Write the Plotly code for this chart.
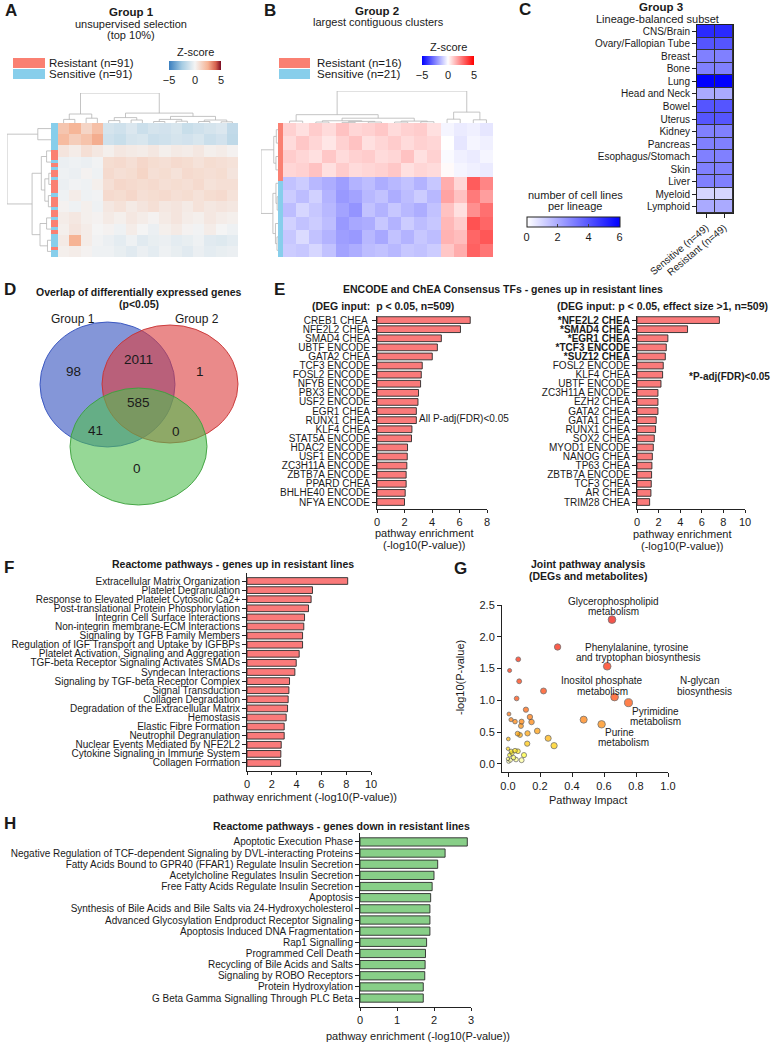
import numpy as np
import plotly.graph_objects as go

W, H = 781, 1042
FONT = "Arial, 'Liberation Sans', Helvetica, sans-serif"
INK = "#1a1a1a"

# ======================= DATA =======================
# Panel A: coarse z-score blocks (rows top->bottom, 16 gene clusters)
heatA_rows = [
    [1.8, 2.4, 1.2, 2.0, -1.0, -1.2, -0.8, -1.3, -1.0, -1.1, -0.9, -1.4, -1.2, -1.0, -0.8, -1.6],
    [2.2, 1.5, 1.9, 2.6, -1.2, -1.4, -1.0, -0.9, -1.3, -1.2, -1.0, -1.1, -0.9, -1.3, -1.1, -1.7],
    [0.6, 0.3, 0.8, 0.5, 0.2, 0.5, 0.4, 0.3, 0.5, 0.2, 0.4, 0.3, 0.5, 0.2, 0.3, 0.1],
    [-0.3, -0.2, -0.3, -0.1, 0.9, 1.0, 0.8, 1.1, 0.9, 0.8, 1.0, 0.9, 0.7, 0.9, 0.8, 0.7],
    [-0.2, -0.3, 0.1, -0.2, 1.0, 0.8, 0.9, 1.2, 0.8, 0.9, 0.7, 1.0, 0.9, 0.8, 0.9, 0.6],
    [-0.3, -0.1, -0.2, 0.2, 0.8, 1.1, 1.0, 0.9, 1.0, 0.8, 0.9, 0.8, 1.0, 0.7, 0.8, 0.8],
    [-0.2, 0.3, -0.2, -0.1, 1.0, 0.9, 1.1, 0.8, 0.9, 1.0, 0.8, 0.9, 0.7, 0.9, 1.0, 0.7],
    [0.1, -0.2, 0.2, -0.2, 0.5, 0.7, 0.4, 0.6, 0.8, 0.5, 0.6, 0.4, 0.7, 0.5, 0.6, 0.5],
    [0.3, 0.5, 0.2, 0.1, 0.4, 0.2, 0.5, 0.3, 0.1, 0.4, 0.6, 0.3, 0.2, 0.5, 0.3, 0.2],
    [0.2, 0.6, 0.3, 0.0, 0.1, -0.2, 0.3, 0.0, -0.3, 0.2, 0.4, 0.1, -0.1, 0.3, 0.0, -0.2],
    [0.4, 2.5, 0.3, -0.1, -0.3, -0.5, -0.2, -0.6, -0.4, -0.3, -0.5, -0.4, -0.2, -0.6, -0.7, -0.5],
    [0.2, 0.3, 0.1, -0.2, -0.2, -0.4, -0.6, -0.3, -0.5, -0.2, -0.4, -0.6, -0.3, -0.5, -0.4, -0.3],
]
annoA_runs = [("S", 8), ("R", 3), ("S", 1), ("R", 1), ("S", 1), ("R", 2), ("S", 1), ("R", 4),
              ("S", 1), ("R", 3), ("S", 1), ("R", 2), ("S", 1), ("R", 2), ("S", 1), ("R", 1),
              ("S", 4), ("R", 1), ("S", 2)]
dendroA_top = [1.0, [0.30, [0.12, 0, 1], [0.16, 2, 3]],
               [0.33, [0.18, [0.08, 4, 5], [0.10, 6, 7]],
                [0.22, [0.12, [0.05, 8, 9], [0.06, 10, 11]], [0.10, [0.05, 12, 13], [0.04, 14, 15]]]]]
dendroA_left = [1.0, [0.30, 0, 1],
                [0.43, [0.22, [0.10, 2, 3], [0.14, [0.05, 4, 5], [0.06, 6, 7]]],
                 [0.25, [0.10, 8, 9], [0.08, 10, 11]]]]

# Panel B
heatB_rows = [
    [0.9, 0.6, 1.0, 0.7, 1.2, 0.8, 0.9, 1.1, 0.7, 0.9, 1.0, 0.6, -0.2, -0.4, -0.3, -0.5],
    [0.7, 1.1, 0.8, 0.5, 0.9, 1.2, 0.6, 0.8, 1.0, 0.7, 0.9, 0.8, 0.0, -0.5, -0.2, -0.3],
    [1.0, 0.8, 0.6, 1.1, 0.7, 0.9, 1.0, 0.7, 0.8, 1.2, 0.6, 0.9, -0.1, -0.3, -0.4, -0.2],
    [0.8, 0.9, 1.2, 0.6, 1.0, 0.7, 0.8, 0.9, 1.1, 0.6, 0.8, 0.7, 0.1, -0.2, -0.3, -0.4],
    [-1.2, -1.0, -1.4, -1.6, -1.9, -1.5, -1.3, -1.6, -1.4, -1.2, -1.5, -1.1, 1.6, 0.8, 3.2, 2.4],
    [-1.0, -1.3, -0.9, -1.5, -2.0, -1.8, -1.4, -1.2, -1.6, -1.3, -1.0, -1.4, 1.8, 1.2, 2.6, 1.9],
    [-1.3, -0.8, -1.1, -1.4, -1.8, -2.1, -1.2, -1.5, -1.1, -1.4, -1.6, -1.2, 1.2, 0.6, 2.2, 2.8],
    [-0.9, -1.2, -1.0, -1.3, -2.0, -1.7, -1.6, -1.1, -1.5, -1.0, -1.3, -1.1, 1.4, 1.0, 3.4, 3.0],
    [-1.1, -0.7, -1.2, -1.5, -1.9, -2.0, -1.4, -1.7, -1.2, -1.5, -1.1, -1.3, 1.5, 1.3, 3.0, 3.3],
    [-1.0, -1.1, -0.8, -1.2, -1.8, -1.6, -1.3, -1.2, -1.4, -1.1, -1.2, -1.0, 1.1, 1.6, 3.1, 2.7],
]
nB_resistant = 16
nB_sensitive = 21
dendroB_top = [1.0,
               [0.26, [0.06, 0, 1], [0.15, [0.07, [0.03, 2, 3], [0.05, [0.02, 4, 5], [0.03, 6, 7]]],
                                     [0.06, [0.03, 8, 9], [0.04, 10, 11]]]],
               [0.34, [0.12, 12, 13], [0.10, 14, 15]]]
dendroB_left = [1.0, [0.25, [0.10, 0, 1], [0.12, 2, 3]],
                [0.30, [0.12, 4, [0.05, 5, 6]], [0.15, 7, [0.06, 8, 9]]]]

# Panel C
lineages = ["CNS/Brain", "Ovary/Fallopian Tube", "Breast", "Bone", "Lung", "Head and Neck",
            "Bowel", "Uterus", "Kidney", "Pancreas", "Esophagus/Stomach", "Skin", "Liver",
            "Myeloid", "Lymphoid"]
sens_counts = [5, 4, 3, 3, 6, 2, 4, 4, 3, 3, 3, 3, 3, 1, 2]
res_counts = [5, 4, 3, 3, 6, 2, 4, 4, 3, 3, 3, 3, 3, 1, 2]
c_groups = ["Sensitive (n=49)", "Resistant (n=49)"]

# Panel D (Venn counts)
venn_sets = ["Group 1", "Group 2"]
venn_regions = ["1", "12", "2", "123", "13", "23", "3"]
venn_counts = [98, 2011, 1, 585, 41, 0, 0]

# Panel E
e_left_labels = ["CREB1 CHEA ", "NFE2L2 CHEA", "SMAD4 CHEA", "UBTF ENCODE", "GATA2 CHEA",
                 "TCF3 ENCODE", "FOSL2 ENCODE", "NFYB ENCODE", "PBX3 ENCODE", "USF2 ENCODE",
                 "EGR1 CHEA", "RUNX1 CHEA", "KLF4 CHEA", "STAT5A ENCODE", "HDAC2 ENCODE",
                 "USF1 ENCODE", "ZC3H11A ENCODE", "ZBTB7A ENCODE", "PPARD CHEA",
                 "BHLHE40 ENCODE", "NFYA ENCODE"]
e_left_values = [6.78, 6.07, 4.68, 4.39, 4.02, 3.29, 3.22, 3.17, 3.02, 2.98, 2.86, 2.86,
                 2.54, 2.51, 2.22, 2.20, 2.17, 2.12, 2.12, 2.05, 2.00]
e_right_labels = ["*NFE2L2 CHEA", "*SMAD4 CHEA", "*EGR1 CHEA", "*TCF3 ENCODE", "*SUZ12 CHEA",
                  "FOSL2 ENCODE", "KLF4 CHEA", "UBTF ENCODE", "ZC3H11A ENCODE", "EZH2 CHEA",
                  "GATA2 CHEA", "GATA1 CHEA", "RUNX1 CHEA", "SOX2 CHEA", "MYOD1 ENCODE",
                  "NANOG CHEA", "TP63 CHEA", "ZBTB7A ENCODE", "TCF3 CHEA", "AR CHEA", "TRIM28 CHEA"]
e_right_values = [7.63, 4.68, 2.86, 2.71, 2.62, 2.43, 2.37, 2.22, 1.94, 1.94, 1.94, 1.78,
                  1.72, 1.60, 1.51, 1.42, 1.38, 1.35, 1.32, 1.29, 1.17]
e_right_significant = 5

# Panel F
f_labels = ["Extracellular Matrix Organization", "Platelet Degranulation",
            "Response to Elevated Platelet Cytosolic Ca2+", "Post-translational Protein Phosphorylation",
            "Integrin Cell Surface Interactions", "Non-integrin membrane-ECM Interactions",
            "Signaling by TGFB Family Members", "Regulation of IGF Transport and Uptake by IGFBPs",
            "Platelet Activation, Signaling and Aggregation", "TGF-beta Receptor Signaling Activates SMADs",
            "Syndecan Interactions", "Signaling by TGF-beta Receptor Complex", "Signal Transduction",
            "Collagen Degradation", "Degradation of the Extracellular Matrix", "Hemostasis",
            "Elastic Fibre Formation", "Neutrophil Degranulation", "Nuclear Events Mediated by NFE2L2",
            "Cytokine Signaling in Immune System", "Collagen Formation"]
f_values = [8.12, 5.28, 5.17, 4.96, 4.64, 4.58, 4.48, 4.48, 4.21, 3.97, 3.86, 3.43, 3.38,
            3.32, 3.27, 3.16, 3.00, 3.00, 2.76, 2.73, 2.71]

# Panel G
g_impact = [0.0, 0.65, 0.31, 0.62, 0.064, 0.01, 0.07, 1.044, 0.222, 0.666, 0.054, 0.753,
            0.112, 0.006, 0.137, 0.019, 0.044, 0.085, 0.147, 0.081, 0.473, 0.585, 0.183,
            0.06, 0.075, 0.122, 0.251, 0.288, 0.12, 0.002, 0.0, 0.02, 0.044, 0.062, 0.025,
            0.01, 0.1, 0.035, 0.0, 0.05, 0.085, 0.015, 0.004]
g_logp = [2.68, 2.27, 1.84, 1.536, 1.646, 1.47, 1.30, 1.315, 1.148, 1.053, 1.03, 0.964,
          0.854, 0.786, 0.739, 0.697, 0.666, 0.666, 0.66, 0.598, 0.697, 0.624, 0.519,
          0.477, 0.456, 0.482, 0.404, 0.288, 0.32, 0.393, 0.24, 0.2, 0.21, 0.2, 0.17,
          0.14, 0.14, 0.1, 0.08, 0.07, 0.06, 0.06, 0.04]

# Panel H
h_labels = ["Apoptotic Execution Phase",
            "Negative Regulation of TCF-dependent Signaling by DVL-interacting Proteins",
            "Fatty Acids Bound to GPR40 (FFAR1) Regulate Insulin Secretion",
            "Acetylcholine Regulates Insulin Secretion", "Free Fatty Acids Regulate Insulin Secretion",
            "Apoptosis", "Synthesis of Bile Acids and Bile Salts via 24-Hydroxycholesterol",
            "Advanced Glycosylation Endproduct Receptor Signaling",
            "Apoptosis Induced DNA Fragmentation", "Rap1 Signalling", "Programmed Cell Death",
            "Recycling of Bile Acids and Salts", "Signaling by ROBO Receptors",
            "Protein Hydroxylation", "G Beta Gamma Signalling Through PLC Beta"]
h_values = [2.90, 2.30, 2.10, 2.00, 1.95, 1.91, 1.89, 1.89, 1.89, 1.80, 1.77, 1.76, 1.75, 1.71, 1.71]

# ======================= HELPERS =======================
def xd(a, b):
    return [a / W, b / W]

def yd(a, b):
    return [1 - b / H, 1 - a / H]

def px(x):
    return x / W

def py(y):
    return 1 - y / H

def dendro_lines(node):
    xs, ys = [], []

    def rec(n):
        if not isinstance(n, list):
            return float(n), 0.0
        h, l, r = n
        xl, hl = rec(l)
        xr, hr = rec(r)
        xs.extend([xl, xl, xr, xr, None])
        ys.extend([hl, h, h, hr, None])
        return (xl + xr) / 2, h

    rec(node)
    return xs, ys

fig = go.Figure()
layout = dict(width=W, height=H, margin=dict(l=0, r=0, t=0, b=0), autosize=False,
              paper_bgcolor="white", plot_bgcolor="white", showlegend=False,
              font=dict(family=FONT, color=INK, size=10), template="none")

def set_axes(n, xdom, ydom, xr, yr, xkw=None, ykw=None):
    xn = "xaxis" if n == 1 else f"xaxis{n}"
    yn = "yaxis" if n == 1 else f"yaxis{n}"
    ya = "y" if n == 1 else f"y{n}"
    xa = "x" if n == 1 else f"x{n}"
    base = dict(showgrid=False, zeroline=False)
    layout[xn] = dict(domain=xdom, range=xr, anchor=ya, **base, **(xkw or {}))
    layout[yn] = dict(domain=ydom, range=yr, anchor=xa, **base, **(ykw or {}))

HID = dict(visible=False)
DGRAY = dict(color="#b5b5b5", width=0.8)

# ---------- Panel A ----------
set_axes(1, xd(58, 238), yd(123, 257), [-0.5, 15.5], [11.5, -0.5], HID, HID)
fig.add_trace(go.Heatmap(z=heatA_rows, x=list(range(16)), y=list(range(12)), coloraxis="coloraxis",
                         xaxis="x", yaxis="y", hoverinfo="skip"))
annoA = []
for lab, cnt in annoA_runs:
    annoA += [lab] * cnt
set_axes(2, xd(51, 58), yd(123, 257), [-0.5, 0.5], [len(annoA) - 0.5, -0.5], HID, HID)
fig.add_trace(go.Heatmap(z=[[1 if a == "R" else 0] for a in annoA], x=[0], y=list(range(len(annoA))),
                         zmin=0, zmax=1, showscale=False, xaxis="x2", yaxis="y2", hoverinfo="skip",
                         colorscale=[[0, "#87ceeb"], [0.5, "#87ceeb"], [0.5, "#fa8072"], [1, "#fa8072"]]))
set_axes(3, xd(58, 238), yd(93, 123), [-0.5, 15.5], [0, 1.0], HID, HID)
dx, dy = dendro_lines(dendroA_top)
fig.add_trace(go.Scatter(x=dx, y=dy, mode="lines", line=DGRAY, xaxis="x3", yaxis="y3", hoverinfo="skip"))
set_axes(4, xd(7, 51), yd(123, 257), [1.0, 0], [11.5, -0.5], HID, HID)
dx, dy = dendro_lines(dendroA_left)
fig.add_trace(go.Scatter(x=dy, y=dx, mode="lines", line=DGRAY, xaxis="x4", yaxis="y4", hoverinfo="skip"))

layout["coloraxis"] = dict(
    cmin=-5, cmax=5,
    colorscale=[[0, "#3a7fbf"], [0.25, "#a6cce3"], [0.5, "#f4f4f4"], [0.75, "#f6b394"],
                [0.9, "#d6604d"], [1, "#7a0b23"]],
    colorbar=dict(orientation="h", x=px(195), xanchor="center", y=py(61), yanchor="top",
                  len=52, lenmode="pixels", thickness=9, tickvals=[-5, 0, 5], ticks="",
                  outlinewidth=0, xpad=0, ypad=0, tickfont=dict(size=11, family=FONT, color=INK)))

# ---------- Panel B ----------
set_axes(5, xd(283, 493), yd(123, 257), [-0.5, 15.5], [9.5, -0.5], HID, HID)
fig.add_trace(go.Heatmap(z=heatB_rows, x=list(range(16)), y=list(range(10)), coloraxis="coloraxis2",
                         xaxis="x5", yaxis="y5", hoverinfo="skip"))
annoB = ["R"] * nB_resistant + ["S"] * nB_sensitive
set_axes(6, xd(278, 283), yd(123, 257), [-0.5, 0.5], [len(annoB) - 0.5, -0.5], HID, HID)
fig.add_trace(go.Heatmap(z=[[1 if a == "R" else 0] for a in annoB], x=[0], y=list(range(len(annoB))),
                         zmin=0, zmax=1, showscale=False, xaxis="x6", yaxis="y6", hoverinfo="skip",
                         colorscale=[[0, "#87ceeb"], [0.5, "#87ceeb"], [0.5, "#fa8072"], [1, "#fa8072"]]))
set_axes(7, xd(283, 493), yd(91, 123), [-0.5, 15.5], [0, 1.0], HID, HID)
dx, dy = dendro_lines(dendroB_top)
fig.add_trace(go.Scatter(x=dx, y=dy, mode="lines", line=DGRAY, xaxis="x7", yaxis="y7", hoverinfo="skip"))
set_axes(8, xd(261, 278), yd(123, 257), [1.0, 0], [9.5, -0.5], HID, HID)
dx, dy = dendro_lines(dendroB_left)
fig.add_trace(go.Scatter(x=dy, y=dx, mode="lines", line=DGRAY, xaxis="x8", yaxis="y8", hoverinfo="skip"))

layout["coloraxis2"] = dict(
    cmin=-5, cmax=5, colorscale=[[0, "#0000ff"], [0.5, "#ffffff"], [1, "#ff0000"]],
    colorbar=dict(orientation="h", x=px(448), xanchor="center", y=py(56), yanchor="top",
                  len=52, lenmode="pixels", thickness=9, tickvals=[-5, 0, 5], ticks="",
                  outlinewidth=0, xpad=0, ypad=0, tickfont=dict(size=11, family=FONT, color=INK)))

# ---------- Panel C ----------
axc = dict(showline=True, mirror=True, linecolor="#222", linewidth=1, ticks="outside", ticklen=4,
           tickcolor="#222", tickfont=dict(size=10, family=FONT, color=INK))
set_axes(9, xd(697, 733), yd(25, 213), [-0.5, 1.5], [14.5, -0.5],
         dict(axc, tickangle=-40, type="category"), dict(axc, type="category"))
fig.add_trace(go.Heatmap(z=[[s, r] for s, r in zip(sens_counts, res_counts)], x=c_groups, y=lineages,
                         coloraxis="coloraxis3", xgap=1, ygap=1, xaxis="x9", yaxis="y9", hoverinfo="skip"))
layout["coloraxis3"] = dict(
    cmin=0, cmax=6, colorscale=[[0, "#ffffff"], [1, "#0000ff"]],
    colorbar=dict(orientation="h", x=px(573), xanchor="center", y=py(217), yanchor="top",
                  len=93, lenmode="pixels", thickness=10, tickvals=[0, 2, 4, 6], ticks="inside",
                  ticklen=3, tickcolor="#444", outlinewidth=1, outlinecolor="#222", xpad=0, ypad=0,
                  tickfont=dict(size=11, family=FONT, color=INK)))

# ---------- bar chart helper ----------
def bar_panel(n, xdom, ydom, labels, values, color, xmax, dtick, pad_top, pad_bot, ticktext=None):
    m = len(labels)
    set_axes(n, xdom, ydom, [0, xmax], [m - 1 + pad_bot, -pad_top],
             dict(showline=True, linecolor="#222", linewidth=1, ticks="outside", ticklen=3,
                  tickcolor="#222", tickvals=list(np.arange(0, xmax + 0.01, dtick)),
                  tickfont=dict(size=11, family=FONT, color=INK)),
             dict(showline=True, linecolor="#222", linewidth=1, ticks="outside", ticklen=4,
                  tickcolor="#222", tickvals=list(range(m)), ticktext=ticktext or labels,
                  tickfont=dict(size=10, family=FONT, color=INK)))
    xa = f"x{n}"
    ya = f"y{n}"
    fig.add_trace(go.Bar(x=values, y=list(range(m)), orientation="h", width=0.74,
                         marker=dict(color=color, line=dict(color="#2a2a2a", width=0.9)),
                         xaxis=xa, yaxis=ya, hoverinfo="skip"))

RED = "#fa7a7a"
GREEN = "#88cf88"
bar_panel(10, xd(377, 487), yd(316, 509), e_left_labels, e_left_values, RED, 8, 2, 0.45, 0.77)
e_right_text = [f"<b>{l}</b>" if i < e_right_significant else l for i, l in enumerate(e_right_labels)]
bar_panel(11, xd(637, 745), yd(316, 509), e_right_labels, e_right_values, RED, 10, 2, 0.45, 0.77,
          ticktext=e_right_text)
bar_panel(12, xd(247, 371), yd(573, 771), f_labels, f_values, RED, 10, 2, 0.88, 0.88)
bar_panel(14, xd(360, 471), yd(833, 1007), h_labels, h_values, GREEN, 3, 1, 0.8, 0.8)

# ---------- Panel G ----------
axg = dict(showline=True, linecolor="#222", linewidth=1, ticks="outside", ticklen=4, tickcolor="#222",
           tickformat=".1f", tickfont=dict(size=11, family=FONT, color=INK))
set_axes(13, xd(502, 668), yd(605, 772), [-0.0375, 1.0], [-0.126, 2.5],
         dict(axg, tickvals=[0, 0.2, 0.4, 0.6, 0.8, 1.0]), dict(axg, tickvals=[0, 0.5, 1.0, 1.5, 2.0, 2.5]))
gi = np.array(g_impact)
gp = np.array(g_logp)
order = np.argsort(gp)
fig.add_trace(go.Scatter(
    x=gi[order], y=gp[order], mode="markers", xaxis="x13", yaxis="y13", cliponaxis=False,
    hoverinfo="skip",
    marker=dict(size=3.5 + 5.2 * np.sqrt(gi[order]), color=gp[order], cmin=0, cmax=2.7,
                colorscale=[[0, "#fffff0"], [0.05, "#ffff30"], [0.1, "#ffd000"], [0.15, "#ffb000"],
                            [0.22, "#ff8c00"], [0.37, "#ff4500"], [0.6, "#ff2000"], [1, "#e80000"]],
                line=dict(color="#3a3a3a", width=0.8))))

layout["shapes"] = []
ann = []

def T(x, y, s, size=10, bold=False, xanchor="center", angle=0):
    ann.append(dict(x=px(x), y=py(y), xref="paper", yref="paper", showarrow=False,
                    text=f"<b>{s}</b>" if bold else s, xanchor=xanchor, yanchor="middle",
                    textangle=angle, font=dict(size=size, family=FONT, color=INK)))

def rect(x0, y0, x1, y1, color, **kw):
    layout["shapes"].append(dict(type="rect", xref="paper", yref="paper", x0=px(x0), x1=px(x1),
                                 y0=py(y1), y1=py(y0), fillcolor=color, line=dict(width=0), **kw))

# C cell borders background
layout["shapes"].append(dict(type="rect", xref="x9 domain", yref="y9 domain", x0=0, x1=1, y0=0, y1=1,
                             fillcolor="#333", line=dict(width=0), layer="below"))

# panel letters
for L, x, y in [("A", 3, 11), ("B", 262, 11), ("C", 517, 9), ("D", 2, 290), ("E", 272, 289),
                ("F", 2, 567), ("G", 452, 568), ("H", 2, 823)]:
    T(x, y, L, 17, True, "left")

# A texts
T(131, 12, "Group 1", 11.5, True)
T(131, 24, "unsupervised selection", 11)
T(131, 35, "(top 10%)", 11)
rect(13, 58, 45, 68, "#fa8072")
rect(13, 69, 45, 79, "#87ceeb")
T(47, 63, "Resistant (n=91)", 11.5, False, "left")
T(47, 74, "Sensitive (n=91)", 11.5, False, "left")
T(195, 52, "Z-score", 11)

# B texts
T(377, 11, "Group 2", 11.5, True)
T(378, 22, "largest contiguous clusters", 11)
rect(279, 58, 310, 68, "#fa8072")
rect(279, 69, 310, 79, "#87ceeb")
T(315, 63, "Resistant (n=16)", 11.5, False, "left")
T(315, 74, "Sensitive (n=21)", 11.5, False, "left")
T(448, 47, "Z-score", 11)

# C texts
T(661, 7, "Group 3", 11.5, True)
T(657, 19, "Lineage-balanced subset", 11)
T(575, 195, "number of cell lines", 11)
T(575, 206, "per lineage", 11)

# D Venn
venn_shapes = [((40, 322, 175, 447), "rgba(50,80,190,0.6)", "rgba(50,80,190,0.9)"),
               ((102, 325, 238, 443), "rgba(220,60,60,0.6)", "rgba(200,50,50,0.9)"),
               ((70, 388, 207, 505), "rgba(80,190,80,0.6)", "rgba(60,160,60,0.9)")]
for (x0, y0, x1, y1), fc, lc in venn_shapes:
    layout["shapes"].append(dict(type="circle", xref="paper", yref="paper", x0=px(x0), x1=px(x1),
                                 y0=py(y1), y1=py(y0), fillcolor=fc, line=dict(color=lc, width=1)))
T(139, 292, "Overlap of differentially expressed genes", 10.5, True)
T(139, 304, "(p<0.05)", 10.5, True)
T(73, 319, venn_sets[0], 12)
T(197, 319, venn_sets[1], 12)
venn_pos = {"1": (73, 372), "12": (138, 359), "2": (200, 371), "123": (138, 402),
            "13": (95, 430), "23": (176, 431), "3": (137, 468)}
for reg, cnt in zip(venn_regions, venn_counts):
    T(*venn_pos[reg], str(cnt), 13.5)

# E texts
T(503, 289, "ENCODE and ChEA Consensus TFs - genes up in resistant lines", 10.5, True)
T(383, 306, "(DEG input:  p < 0.05, n=509)", 10.5, True)
T(662, 306, "(DEG input: p < 0.05, effect size >1, n=509)", 10.5, True)
T(464, 418, "All P-adj(FDR)<0.05", 10)
T(729, 376, "*P-adj(FDR)<0.05", 10, True)
T(424, 533, "pathway enrichment", 11)
T(424, 545, "(-log10(P-value))", 11)
T(682, 534, "pathway enrichment", 11)
T(682, 546, "(-log10(P-value))", 11)

# F texts
T(233, 564, "Reactome pathways - genes up in resistant lines", 10.5, True)
T(305, 797, "pathway enrichment (-log10(P-value))", 11)

# G texts
T(588, 564, "Joint pathway analysis", 10.5, True)
T(588, 576, "(DEGs and metabolites)", 10.5, True)
T(588, 800, "Pathway Impact", 11)
T(460, 678, "-log10(P-value)", 11, False, "center", -90)
for s, x, y in [("Glycerophospholipid", 613, 601), ("metabolism", 613, 611),
                ("Phenylalanine, tyrosine", 637, 647), ("and tryptophan biosynthesis", 638, 657),
                ("Inositol phosphate", 602, 680), ("metabolism", 602, 691),
                ("N-glycan", 699, 680), ("biosynthesis", 704, 691),
                ("Pyrimidine", 655, 711), ("metabolism", 655, 721),
                ("Purine", 619, 732), ("metabolism", 623, 742)]:
    T(x, y, s, 10)

# H texts
T(341, 826, "Reactome pathways - genes down in resistant lines", 10.5, True)
T(418, 1036, "pathway enrichment (-log10(P-value))", 11)

layout["annotations"] = ann
fig.update_layout(**layout)
fig.write_html("out.html")
